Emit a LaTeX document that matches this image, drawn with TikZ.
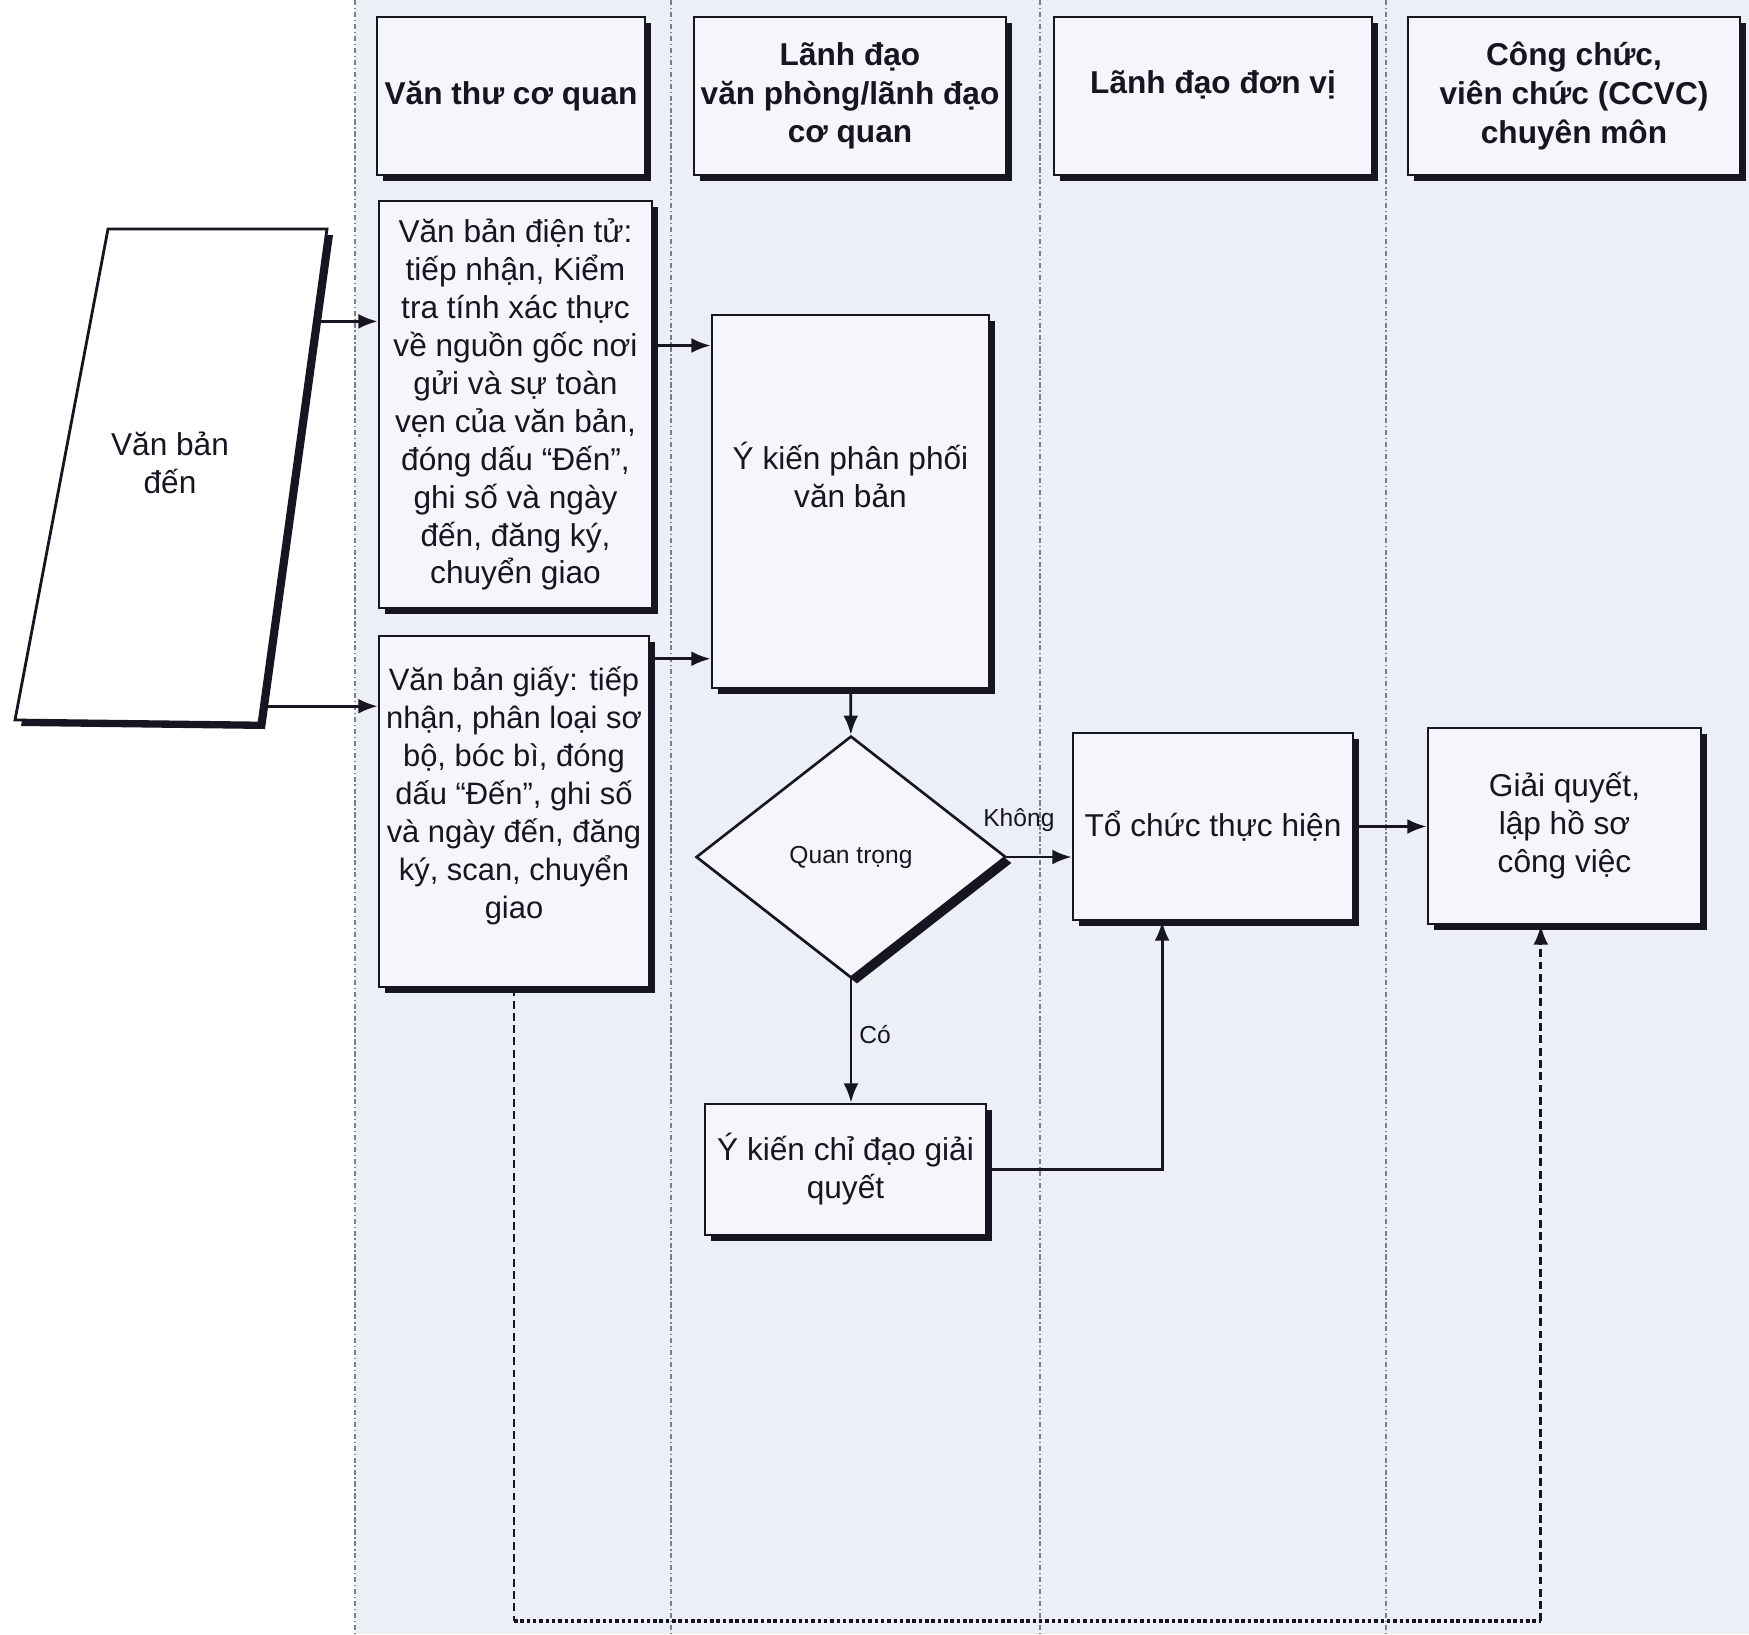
\documentclass[tikz,border=0pt]{standalone}
\usepackage{fontspec}
\setmainfont{Liberation Sans}
\usetikzlibrary{arrows.meta,shapes.geometric,shadows,calc}

\definecolor{bgc}{RGB}{236,240,246}
\definecolor{boxc}{RGB}{244,246,251}
\definecolor{ink}{RGB}{22,22,34}
\definecolor{lanec}{RGB}{120,126,142}

\tikzset{
  box/.style={draw=ink, fill=boxc, line width=1.5pt, inner sep=1.5pt, align=center,
    font=\fontsize{18}{21.6}\selectfont,
    drop shadow={shadow xshift=3.4pt, shadow yshift=-3.4pt, fill=ink, opacity=1}},
  head/.style={box, font=\bfseries\fontsize{18}{22}\selectfont, minimum height=3.16cm},
  dec/.style={box, diamond, font=\fontsize{14}{16}\selectfont, minimum width=6.2cm, minimum height=4.84cm, inner sep=0pt},
  lbl/.style={font=\fontsize{14}{16}\selectfont, inner sep=1pt},
  lane/.style={-, lanec, line width=0.7pt, dash pattern=on 3pt off 1.5pt on 0.8pt off 1.5pt},
  back/.style={ink, line width=1.6pt, dash pattern=on 4.5pt off 2.5pt},
  backdot/.style={-, ink, line width=2.2pt, dash pattern=on 2pt off 1.6pt}
}

\begin{document}
\begin{tikzpicture}[->,>={Latex[length=11pt,width=8.5pt]},x=0.02cm,y=-0.02cm,line width=1.6pt,ink]
  \useasboundingbox (0,0) rectangle (1749,1634);
  \fill[white] (0,0) rectangle (1749,1634);
  \fill[bgc] (355,0) rectangle (1749,1634);
  \foreach \x in {355,671,1040,1386}
    \draw[lane] (\x,0) -- (\x,1634);

  \node[head, minimum width=5.36cm]	(h1) at (511,96)	{Văn thư cơ quan};
  \node[head, minimum width=6.24cm]	(h2) at (850,96)	{Lãnh đạo\\văn phòng/lãnh đạo\\cơ quan};
  \node[head, minimum width=6.36cm]	(h3) at (1213,96)	{Lãnh đạo đơn vị\\[-0.2cm]\mbox{}};
  \node[head, minimum width=6.64cm]	(h4) at (1574,96)	{Công chức,\\viên chức (CCVC)\\chuyên môn};

  \coordinate (dtl) at (108,229);
  \coordinate (dtr) at (327,229);
  \coordinate (dbr) at (259,723);
  \coordinate (dbl) at (15,720);
  \fill[ink] ([shift={(6,6)}]dtl) -- ([shift={(6,6)}]dtr) -- ([shift={(6,6)}]dbr) -- ([shift={(6,6)}]dbl) -- cycle;
  \draw[-, fill=white] (dtl) -- (dtr) -- (dbr) -- (dbl) -- cycle;
  \node[align=center, font=\fontsize{18}{21.6}\selectfont]	(den) at (170,463)	{Văn bản\\đến};

  \node[box, minimum width=5.46cm, minimum height=8.14cm]	(E) at (515.5,404.5)	{Văn bản điện tử:\\tiếp nhận, Kiểm\\tra tính xác thực\\về nguồn gốc nơi\\gửi và sự toàn\\vẹn của văn bản,\\đóng dấu “Đến”,\\ghi số và ngày\\đến, đăng ký,\\chuyển giao};
  \node[box, minimum width=5.4cm, minimum height=7.02cm, font=\fontsize{17.6}{21.6}\selectfont]	(G) at (514,811.5)	{Văn bản giấy: tiếp\\nhận, phân loại sơ\\bộ, bóc bì, đóng\\dấu “Đến”, ghi số\\và ngày đến, đăng\\ký, scan, chuyển\\giao\\ \mbox{}};
  \node[box, minimum width=5.54cm, minimum height=7.46cm]	(P) at (850.5,501.5)	{Ý kiến phân phối\\văn bản\\[0.3cm]\mbox{}};
  \node[dec]	(D) at (851,857)	{Quan trọng};
  \node[box, minimum width=5.6cm, minimum height=3.74cm]	(T) at (1213,826.5)	{Tổ chức thực hiện};
  \node[box, minimum width=5.46cm, minimum height=3.92cm]	(S) at (1564.5,826)	{Giải quyết,\\lập hồ sơ\\công việc};
  \node[box, minimum width=5.62cm, minimum height=2.62cm]	(C) at (845.5,1169.5)	{Ý kiến chỉ đạo giải\\quyết};

  \coordinate (d1) at ($(dtr)!0.187!(dbr)$);
  \coordinate (d2) at ($(dtr)!0.966!(dbr)$);
  \coordinate (e1) at ($(E.north east)!0.356!(E.south east)$);
  \coordinate (g1) at ($(G.north east)!0.068!(G.south east)$);
  \coordinate (t1) at ($(T.south west)!0.32!(T.south east)$);
  \coordinate (s1) at ($(S.south west)!0.414!(S.south east)$);
  \coordinate (b1) at ($(G.south)+(0,633)$);
  \coordinate (b2) at (b1 -| s1);

  \draw (d1) -- (d1 -| E.west);
  \draw (d2) -- (d2 -| G.west);
  \draw (e1) -- (e1 -| P.west);
  \draw (g1) -- (g1 -| P.west);
  \path (P) edge (D);
  \draw (D.east) -- node[lbl, pos=0.18, above=0.45cm] {Không} (D.east -| T.west);
  \draw (D.south) -- node[lbl, pos=0.45, right=3pt] {Có} (D.south |- C.north);
  \draw (T.east) -- (T.east -| S.west);
  \draw (C.east) -| (t1);
  \draw[back, -] (G.south) -- (b1);
  \draw[backdot] (b1) -- (b2);
  \draw[back] (b2) -- (s1);
\end{tikzpicture}
\end{document}
